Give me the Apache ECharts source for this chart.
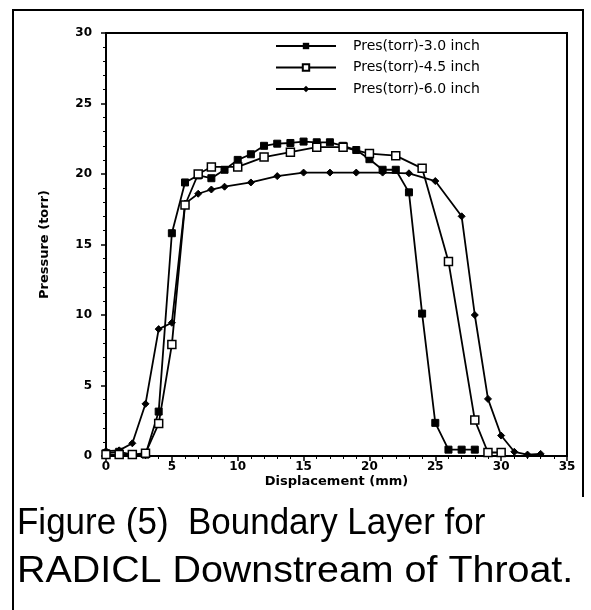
<!DOCTYPE html>
<html>
<head>
<meta charset="utf-8">
<script src="https://cdn.jsdelivr.net/npm/echarts@6/dist/echarts.min.js"></script>
<style>
html,body{margin:0;padding:0;background:#fff;}
#chart{width:591px;height:610px;}
</style>
</head>
<body>
<div id="chart"></div>
<script>
// Data (Displacement mm, Pressure torr)
const seriesNames = ['Pres(torr)-3.0 inch', 'Pres(torr)-4.5 inch', 'Pres(torr)-6.0 inch'];
const x30 = [0,1,2,3,4,5,6,7,8,9,10,11,12,13,14,15,16,17,18,19,20,21,22,23,24,25,26,27,28];
const y30 = [0.2,0.3,0.1,0.1,3.15,15.8,19.4,19.9,19.7,20.3,21.0,21.4,22.0,22.15,22.2,22.3,22.25,22.25,22.0,21.7,21.05,20.3,20.3,18.7,10.1,2.35,0.45,0.45,0.45];
const x45 = [0,1,2,3,4,5,6,7,8,10,12,14,16,18,20,22,24,26,28,29,30];
const y45 = [0.1,0.1,0.1,0.2,2.3,7.9,17.8,20.0,20.5,20.5,21.2,21.55,21.9,21.9,21.45,21.3,20.4,13.8,2.55,0.25,0.25];
const x60 = [0,1,2,3,4,5,6,7,8,9,11,13,15,17,19,21,23,25,27,28,29,30,31,32,33];
const y60 = [0.35,0.4,0.9,3.7,9.0,9.45,17.9,18.6,18.9,19.1,19.4,19.85,20.1,20.1,20.1,20.1,20.05,19.5,17.0,10.0,4.05,1.45,0.3,0.1,0.15];
const xTicks = [0,5,10,15,20,25,30,35];
const yTicks = [0,5,10,15,20,25,30];
const xTitle = 'Displacement (mm)';
const yTitle = 'Pressure (torr)';
const captionLines = ['Figure (5)  Boundary Layer for', 'RADICL Downstream of Throat.'];

const pair = (xs, ys) => xs.map((x, i) => [x, ys[i]]);
const chart = echarts.init(document.getElementById('chart'), null, {renderer: 'canvas'});
const bold = {fontFamily: 'DejaVu Sans', fontWeight: 'bold', fontSize: 12, color: '#000'};
const lineStyle = {color: '#000', width: 1.8};

chart.setOption({
  animation: false,
  backgroundColor: '#fff',
  grid: {left: 106, right: 24, top: 33, bottom: 154, show: true, borderColor: '#000', borderWidth: 2, backgroundColor: 'transparent'},
  xAxis: {
    type: 'value', min: 0, max: 35, interval: 5,
    name: xTitle, nameLocation: 'middle', nameGap: 19, nameMoveOverlap: false,
    nameTextStyle: Object.assign({}, bold, {fontSize: 13, verticalAlign: 'top'}),
    axisLine: {show: true, onZero: false, lineStyle: {color: '#000', width: 2}},
    axisTick: {show: true, length: 5, lineStyle: {color: '#000', width: 1.5}},
    minorTick: {show: true, splitNumber: 5, length: 3, lineStyle: {color: '#000', width: 1}},
    axisLabel: Object.assign({}, bold, {margin: 5, formatter: v => xTicks.includes(v) ? String(v) : ''}),
    splitLine: {show: false}
  },
  yAxis: {
    type: 'value', min: 0, max: 30, interval: 5,
    name: yTitle, nameLocation: 'middle', nameGap: 55, nameRotate: 90, nameMoveOverlap: false,
    nameTextStyle: Object.assign({}, bold, {fontSize: 13}),
    axisLine: {show: true, onZero: false, lineStyle: {color: '#000', width: 2}},
    axisTick: {show: true, length: 5, lineStyle: {color: '#000', width: 1.5}},
    minorTick: {show: true, splitNumber: 5, length: 3, lineStyle: {color: '#000', width: 1}},
    axisLabel: Object.assign({}, bold, {margin: 14, formatter: v => yTicks.includes(v) ? String(v) : ''}),
    splitLine: {show: false}
  },
  legend: {
    left: 275, top: 39, padding: 0, orient: 'vertical', itemWidth: 60, itemHeight: 8, itemGap: 7.5,
    textStyle: {fontFamily: 'DejaVu Sans', fontSize: 14, color: '#000', padding: [0, 0, 0, 12]},
    data: seriesNames
  },
  graphic: [
    {type: 'polyline', shape: {points: [[583, 497], [583, 10], [13, 10], [13, 610]]}, style: {stroke: '#000', lineWidth: 2, fill: null}},
    {type: 'text', x: 17, y: 505, scaleX: 0.945, style: {x: 0, y: 0, text: captionLines[0], font: '37px "Liberation Sans"', fill: '#000', textVerticalAlign: 'top', whiteSpace: 'pre'}},
    {type: 'text', x: 17, y: 553, scaleX: 1.065, style: {x: 0, y: 0, text: captionLines[1], font: '37px "Liberation Sans"', fill: '#000', textVerticalAlign: 'top'}}
  ],
  series: [
    {name: seriesNames[0], type: 'line', data: pair(x30, y30), symbol: 'rect', symbolSize: 7,
     itemStyle: {color: '#000', borderColor: '#000'}, lineStyle: lineStyle, z: 3},
    {name: seriesNames[1], type: 'line', data: pair(x45, y45), symbol: 'rect', symbolSize: 8,
     itemStyle: {color: '#fff', borderColor: '#000', borderWidth: 1.5}, lineStyle: lineStyle, z: 4},
    {name: seriesNames[2], type: 'line', data: pair(x60, y60), symbol: 'diamond', symbolSize: 7,
     itemStyle: {color: '#000', borderColor: '#000'}, lineStyle: lineStyle, z: 2}
  ]
});
</script>
</body>
</html>
